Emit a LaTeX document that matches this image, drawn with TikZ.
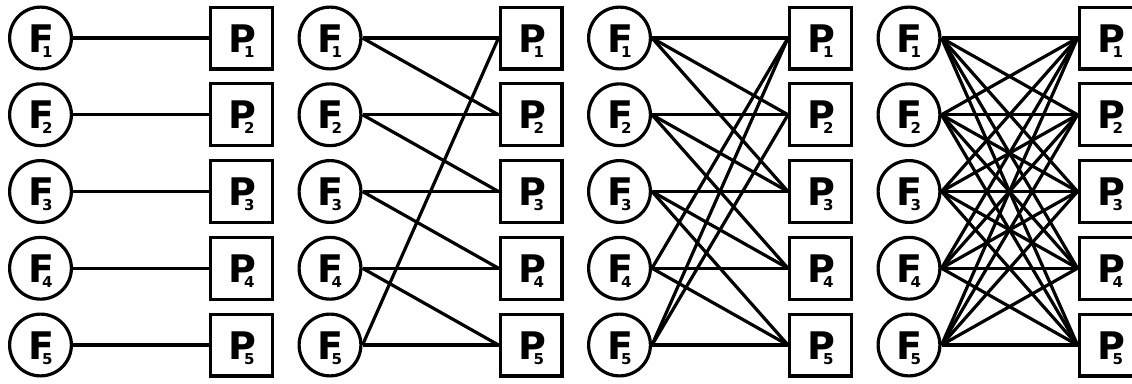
\documentclass[tikz,border=0pt]{standalone}
\usepackage{fontspec}
\setmainfont{DejaVu Sans}
\newcommand\fplab[2]{{\fontsize{38}{38}\selectfont #1}\kern-12.3pt\raisebox{-5pt}{\fontsize{15}{15}\selectfont #2}}
\begin{document}
\begin{tikzpicture}[x=1pt,y=-1pt,line width=3.2pt,
  fnode/.style={circle,draw,minimum size=61.8pt,inner sep=0pt},
  pnode/.style={rectangle,draw,minimum size=61.8pt,inner sep=0pt},
  lbl/.style={anchor=base,inner sep=0pt,font=\bfseries},
  link/.style={line width=3.2pt}]
\useasboundingbox (0,0) rectangle (1132,383);
\clip (0,0) rectangle (1132,383);
\foreach \k in {0,...,3} {
  \foreach \i in {1,...,5} {
    \pgfmathsetmacro\cx{40.5+289.5*\k}
    \pgfmathsetmacro\sx{241.5+289.5*\k}
    \pgfmathsetmacro\cy{38+76.75*(\i-1)}
    \node[fnode] (F\k\i) at (\cx,\cy) {};
    \node[lbl] (FL\k\i) at (\cx,\cy+14) {\fplab{F}{\i}};
    \node[pnode] (P\k\i) at (\sx,\cy) {};
    \node[lbl] (PL\k\i) at (\sx,\cy+14) {\fplab{P}{\i}};
  }
}
\foreach \k/\d in {0/1,1/2,2/3,3/5} {
  \foreach \i in {1,...,5} {
    \foreach \j in {1,...,\d} {
      \pgfmathtruncatemacro\t{mod(\i+\j-2,5)+1}
      \draw[link] (F\k\i.east) -- (P\k\t.west);
    }
  }
}
\end{tikzpicture}
\end{document}
